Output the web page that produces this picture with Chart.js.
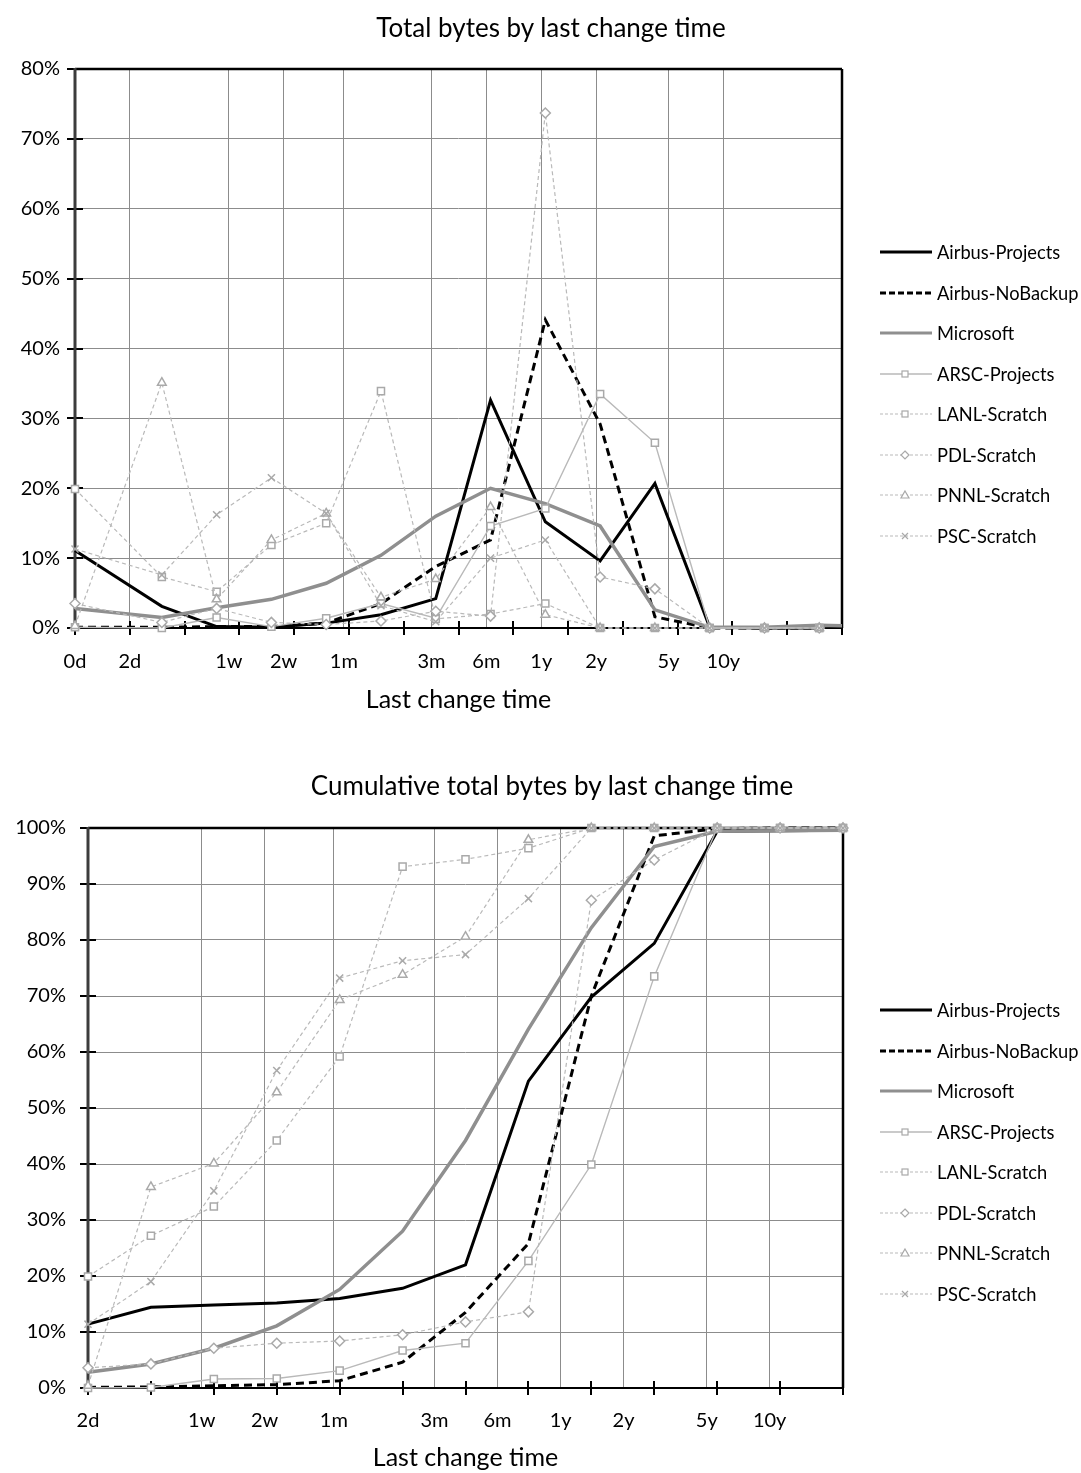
<!DOCTYPE html>
<html>
<head>
<meta charset="utf-8">
<script src="https://cdn.jsdelivr.net/npm/chart.js@4.4.1/dist/chart.umd.min.js"></script>
<style>
  body { margin: 0; background: #fff; font-family: Lato, sans-serif; }
  #page { position: relative; width: 1081px; height: 1473px; overflow: hidden; }
  .panel { position: absolute; left: 0; }
  .title { position: absolute; font-size: 26px; color: #000; white-space: nowrap; transform: translate(-50%, -50%); }
  .legend { position: absolute; left: 879px; margin: 0; padding: 0; list-style: none; }
  .legend li { height: 40.5px; display: flex; align-items: center; font-size: 18.3px; color: #000; white-space: nowrap; }
  .legend svg { margin-right: 4px; }
</style>
</head>
<body>
<div id="page">
  <canvas id="bytesChart" class="panel" style="top:0" width="1081" height="740"></canvas>
  <canvas id="cumChart" class="panel" style="top:740px" width="1081" height="733"></canvas>
  <div class="title" style="left:551px; top:27px">Total bytes by last change time</div>
  <div class="title" style="left:552px; top:785px">Cumulative total bytes by last change time</div>
  <ul class="legend" id="bytesLegend" style="top:232px"></ul>
  <ul class="legend" id="cumLegend" style="top:990px"></ul>
</div>
<script>
// Series and axis data
const seriesNames = ['Airbus-Projects', 'Airbus-NoBackup', 'Microsoft', 'ARSC-Projects', 'LANL-Scratch', 'PDL-Scratch', 'PNNL-Scratch', 'PSC-Scratch']

// bucket ages in days (plotted on a log2 axis)
const bucketDays = [1, 3, 6, 12, 24, 48, 96, 192, 384, 768, 1536, 3072, 6144, 12288, 24576]
const cumulativeDays = [2, 4, 8, 16, 32, 64, 128, 256, 512, 1024, 2048, 4096, 8192]

const bytesTickDays = [1, 2, 7, 14, 30, 91, 182, 365, 730, 1826, 3652]
const bytesTickLabels = ['0d', '2d', '1w', '2w', '1m', '3m', '6m', '1y', '2y', '5y', '10y']
const cumTickDays = [2, 7, 14, 30, 91, 182, 365, 730, 1826, 3652]
const cumTickLabels = ['2d', '1w', '2w', '1m', '3m', '6m', '1y', '2y', '5y', '10y']

// % of total bytes per bucket
const airbusProjects = [11.1, 3.1, 0.2, 0.1, 0.7, 1.9, 4.2, 32.6, 15.2, 9.6, 20.7, 0.1, 0, 0]
const airbusNoBackup = [0.1, 0.1, 0.2, 0.2, 0.7, 3.5, 8.8, 12.6, 44.1, 29.2, 1.6, 0, 0, 0]
const microsoft = [2.8, 1.5, 2.9, 4.1, 6.4, 10.4, 16.0, 20.0, 17.8, 14.6, 2.6, 0.1, 0.1, 0.4, 0.2]
const arscProjects = [0.1, 0, 1.5, 0.2, 1.4, 3.5, 1.4, 14.6, 17.1, 33.5, 26.5, 0, 0, 0]
const lanlScratch = [19.9, 7.3, 5.2, 11.9, 15.0, 33.9, 1.3, 2.0, 3.5, 0, 0, 0, 0, 0]
const pdlScratch = [3.5, 0.8, 2.8, 0.8, 0.5, 1.0, 2.4, 1.7, 73.7, 7.3, 5.6, 0, 0, 0]
const pnnlScratch = [0.3, 35.1, 4.1, 12.6, 16.4, 4.4, 7.0, 17.3, 1.9, 0, 0, 0, 0, 0]
const pscScratch = [11.3, 7.6, 16.2, 21.5, 16.4, 3.2, 0.9, 10.0, 12.6, 0, 0, 0, 0, 0]

// cumulative % of total bytes
const airbusProjectsCum = [11.4, 14.4, 14.8, 15.2, 16.0, 17.8, 22.0, 54.8, 69.8, 79.4, 99.4, 99.5, 99.6]
const airbusNoBackupCum = [0.1, 0.2, 0.4, 0.6, 1.3, 4.6, 13.5, 25.8, 70.0, 98.6, 99.9, 100, 100]
const microsoftCum = [2.8, 4.3, 7.1, 11.1, 17.6, 28.0, 44.2, 64.1, 82.2, 96.7, 99.4, 99.5, 99.6]
const arscProjectsCum = [0, 0.1, 1.6, 1.7, 3.1, 6.7, 8.0, 22.7, 39.9, 73.5, 100, 100, 100]
const lanlScratchCum = [19.9, 27.2, 32.4, 44.2, 59.2, 93.1, 94.4, 96.4, 100, 100, 100, 100, 100]
const pdlScratchCum = [3.6, 4.3, 7.1, 8.0, 8.4, 9.5, 11.8, 13.6, 87.1, 94.3, 100, 100, 100]
const pnnlScratchCum = [0.4, 35.9, 40.1, 52.8, 69.3, 73.8, 80.6, 97.9, 100, 100, 100, 100, 100]
const pscScratchCum = [11.4, 19.0, 35.2, 56.7, 73.2, 76.3, 77.4, 87.4, 100, 100, 100, 100, 100]

const bytesSeries = [airbusProjects, airbusNoBackup, microsoft, arscProjects, lanlScratch, pdlScratch, pnnlScratch, pscScratch]
const cumSeries = [airbusProjectsCum, airbusNoBackupCum, microsoftCum, arscProjectsCum, lanlScratchCum, pdlScratchCum, pnnlScratchCum, pscScratchCum]

// Line styles per series
const LIGHT = '#b9b9b9'
const MARKER = '#a9a9a9'
const seriesStyles = [
  { color: '#000000', width: 3, dash: [], marker: null },
  { color: '#000000', width: 3, dash: [8, 5], marker: null },
  { color: '#8f8f8f', width: 3.5, dash: [], marker: null },
  { color: LIGHT, width: 1.4, dash: [], marker: 'rect' },
  { color: LIGHT, width: 1.2, dash: [4, 3], marker: 'rect' },
  { color: LIGHT, width: 1.2, dash: [4, 3], marker: 'rectRot' },
  { color: LIGHT, width: 1.2, dash: [4, 3], marker: 'triangle' },
  { color: LIGHT, width: 1.2, dash: [4, 3], marker: 'crossRot' },
]

Chart.defaults.font.family = 'Lato, sans-serif'
Chart.defaults.color = '#000'

// Frame around the plot area plus the small tick marks that cross both axes
const axisFrame = {
  id: 'axisFrame',
  beforeDatasetsDraw(chart) {
    const { ctx, chartArea: a, scales } = chart
    const x = scales.x
    const y = scales.y
    const line = (x1, y1, x2, y2) => {
      ctx.beginPath()
      ctx.moveTo(x1, y1)
      ctx.lineTo(x2, y2)
      ctx.stroke()
    }
    ctx.save()
    ctx.strokeStyle = '#000'
    ctx.lineWidth = 2
    y.ticks.forEach((t) => {
      const py = Math.round(y.getPixelForValue(t.value))
      line(a.left - 8, py, a.left + 8, py)
    })
    for (let v = x.min; v <= x.max; v++) {
      const px = Math.round(x.getPixelForValue(v))
      line(px, a.bottom - 7, px, a.bottom + 7)
    }
    ctx.lineWidth = 2.5
    line(a.left, a.top, a.right, a.top)
    line(a.right, a.top, a.right, a.bottom)
    ctx.lineWidth = 2
    line(a.left, a.bottom, a.right + 1, a.bottom)
    ctx.strokeStyle = '#3c3c3c'
    ctx.lineWidth = 3
    line(a.left, a.top - 1, a.left, a.bottom + 1)
    ctx.restore()
  },
}

function makeDatasets(seriesValues, days, clip) {
  return seriesValues.map((values, i) => {
    const s = seriesStyles[i]
    return {
      label: seriesNames[i],
      data: values.map((v, j) => ({ x: Math.log2(days[j]), y: v })),
      borderColor: s.color,
      borderWidth: s.width,
      borderDash: s.dash,
      pointStyle: s.marker || 'circle',
      pointRadius: s.marker ? 5 : 0,
      pointBorderColor: MARKER,
      pointBackgroundColor: '#ffffff',
      pointBorderWidth: 1.5,
      tension: 0,
      clip: clip,
      // later series sit on top
      order: seriesValues.length - i,
    }
  })
}

function makeOptions(cfg) {
  return {
    responsive: false,
    animation: false,
    events: [],
    layout: { padding: { top: cfg.top, right: cfg.right, left: 0, bottom: 0 } },
    plugins: {
      legend: { display: false },
      tooltip: { enabled: false },
    },
    scales: {
      x: {
        type: 'linear',
        min: cfg.xMin,
        max: cfg.xMax,
        afterBuildTicks: (scale) => {
          scale.ticks = cfg.tickDays.map((d) => ({ value: Math.log2(d) }))
        },
        afterFit: (scale) => {
          scale.height = cfg.xHeight
        },
        grid: { color: '#8c8c8c', lineWidth: 1, drawTicks: false },
        border: { display: false },
        ticks: {
          autoSkip: false,
          maxRotation: 0,
          padding: cfg.xPad,
          font: { size: 20 },
          callback: (value, index) => cfg.tickLabels[index],
        },
        title: {
          display: true,
          text: 'Last change time',
          font: { size: 25 },
          padding: { top: 0, bottom: cfg.titlePad },
        },
      },
      y: {
        min: 0,
        max: cfg.yMax,
        afterFit: (scale) => {
          scale.width = cfg.yWidth
        },
        grid: { color: '#8c8c8c', lineWidth: 1, drawTicks: false },
        border: { display: false },
        ticks: {
          stepSize: 10,
          padding: cfg.yPad,
          font: { size: 20 },
          callback: (value) => value + '%',
        },
      },
    },
  }
}

// Total bytes by last change time
new Chart(document.getElementById('bytesChart'), {
  type: 'line',
  data: { datasets: makeDatasets(bytesSeries, bucketDays, { left: 10, right: 0, top: 10, bottom: 10 }) },
  options: makeOptions({
    top: 69, right: 239, xMin: 0, xMax: 14, yMax: 80,
    tickDays: bytesTickDays, tickLabels: bytesTickLabels,
    xHeight: 112, xPad: 22, titlePad: 25, yWidth: 75, yPad: 15,
  }),
  plugins: [axisFrame],
})

// Cumulative total bytes by last change time
new Chart(document.getElementById('cumChart'), {
  type: 'line',
  data: { datasets: makeDatasets(cumSeries, cumulativeDays, false) },
  options: makeOptions({
    top: 88, right: 238, xMin: 1, xMax: 13, yMax: 100,
    tickDays: cumTickDays, tickLabels: cumTickLabels,
    xHeight: 85, xPad: 21, titlePad: 0, yWidth: 88, yPad: 22,
  }),
  plugins: [axisFrame],
})

// Legend built from the same series styles
function markerSvg(kind) {
  const c = 'fill="#fff" stroke="' + MARKER + '" stroke-width="1.2"'
  if (kind === 'rect') return '<rect x="23" y="5" width="6" height="6" ' + c + '/>'
  if (kind === 'rectRot') return '<polygon points="26,4 30,8 26,12 22,8" ' + c + '/>'
  if (kind === 'triangle') return '<polygon points="26,4 30,11 22,11" ' + c + '/>'
  if (kind === 'crossRot') return '<path d="M23,5 L29,11 M29,5 L23,11" fill="none" stroke="' + MARKER + '" stroke-width="1.2"/>'
  return ''
}

function buildLegend(id) {
  const list = document.getElementById(id)
  seriesNames.forEach((name, i) => {
    const s = seriesStyles[i]
    const li = document.createElement('li')
    const dash = s.dash.length ? ' stroke-dasharray="' + (s.marker ? '3,2' : '6,3') + '"' : ''
    li.innerHTML =
      '<svg width="54" height="16" viewBox="0 0 54 16">' +
      '<line x1="1" y1="8" x2="53" y2="8" stroke="' + s.color + '" stroke-width="' + Math.min(s.width, 3) + '"' + dash + '/>' +
      markerSvg(s.marker) +
      '</svg><span>' + name + '</span>'
    list.appendChild(li)
  })
}

buildLegend('bytesLegend')
buildLegend('cumLegend')
</script>
</body>
</html>
